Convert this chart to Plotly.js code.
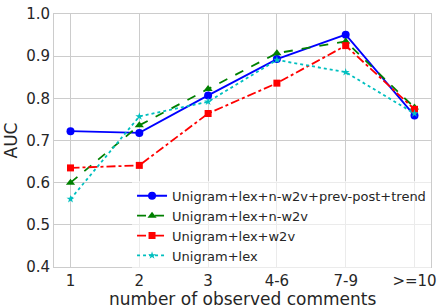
<!DOCTYPE html>
<html><head><meta charset="utf-8">
<script src="https://cdn.plot.ly/plotly-3.0.1.min.js"></script>
<style>html,body{margin:0;padding:0;background:#fff}#c{width:441px;height:308px}</style>
</head><body><div id="c"></div>
<script>
const categories = ["1","2","3","4-6","7-9",">=10"];
const seriesNames = ["Unigram+lex+n-w2v+prev-post+trend","Unigram+lex+n-w2v","Unigram+lex+w2v","Unigram+lex"];
const blueVals = [0.722, 0.718, 0.807, 0.893, 0.951, 0.759];
const greenVals = [0.600, 0.736, 0.822, 0.907, 0.935, 0.778];
const redVals = [0.635, 0.641, 0.764, 0.836, 0.925, 0.774];
const cyanVals = [0.561, 0.757, 0.792, 0.891, 0.862, 0.764];
const yTicks = [0.4,0.5,0.6,0.7,0.8,0.9,1.0];
const xTitle = 'number of observed comments';

const idx = categories.map((c,i)=>i);
function tr(name, vals, color, dash, symbol, size){
  return {x: idx, y: vals, name: name, type:'scatter', mode:'lines+markers',
    line:{color:color, width:1.8, dash:dash}, marker:{color:color, symbol:symbol, size:size}};
}
const data = [
  tr(seriesNames[0], blueVals, '#0000ff', 'solid', 'circle', 8),
  tr(seriesNames[1], greenVals, '#008000', 'dash', 'triangle-up', 8),
  tr(seriesNames[2], redVals, '#ff0000', 'dashdot', 'square', 7),
  tr(seriesNames[3], cyanVals, '#00bfbf', 'dot', 'star', 6)
];
const H = 308, mt = 14, mb = 41, plotH = H - mt - mb;
const layout = {
  width:441, height:H,
  margin:{l:54, r:10, t:mt, b:mb},
  paper_bgcolor:'#fff', plot_bgcolor:'#fff',
  font:{family:'DejaVu Sans', color:'#262626', size:15},
  showlegend:true,
  legend:{x:0.207, y:-0.015, xanchor:'left', yanchor:'bottom', bgcolor:'rgba(255,255,255,0.6)',
    font:{size:13, color:'#262626'}, tracegroupgap:0, itemwidth:30},
  xaxis:{range:[-0.24,5.24], tickvals:idx, ticktext:categories, showgrid:true, gridcolor:'#cccccc',
    zeroline:false, showline:true, linecolor:'#cccccc', mirror:true, ticks:'', ticklen:0,
    tickfont:{size:15}},
  yaxis:{range:[0.4,1.0], tickvals:yTicks, ticktext:yTicks.map(v=>v.toFixed(1)), showgrid:true, gridcolor:'#cccccc',
    zeroline:false, showline:true, linecolor:'#cccccc', mirror:true, ticks:'',
    tickfont:{size:15}, title:{text:'AUC', font:{size:17}, standoff:4}},
  annotations:[{text:xTitle, xref:'paper', yref:'paper', x:0.5, y:-(299-(H-mb))/plotH,
    xanchor:'center', yanchor:'middle', showarrow:false, font:{size:17, color:'#262626'}}]
};
Plotly.newPlot('c', data, layout, {displayModeBar:false, staticPlot:true});
</script></body></html>
